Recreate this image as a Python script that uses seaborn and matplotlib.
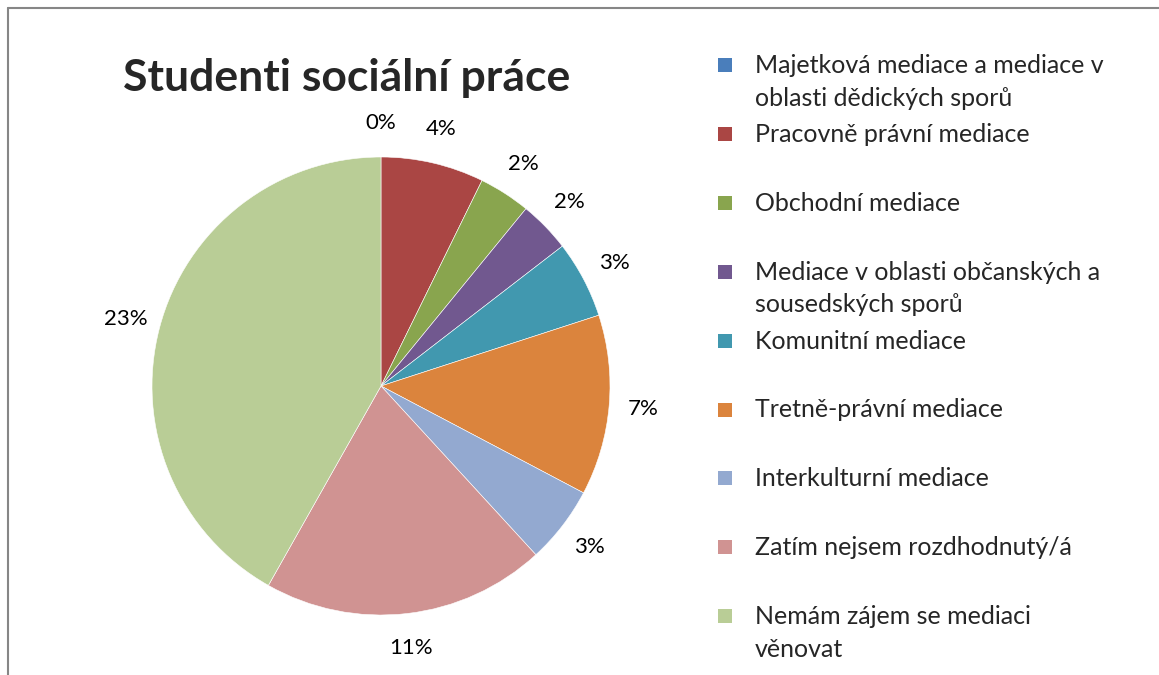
import matplotlib

matplotlib.use("Agg")

import matplotlib.pyplot as plt
import seaborn as sns
from matplotlib.lines import Line2D
from matplotlib.patches import Rectangle

CATEGORIES = [
    "Majetková mediace a mediace v\noblasti dědických sporů",
    "Pracovně právní mediace",
    "Obchodní mediace",
    "Mediace v oblasti občanských a\nsousedských sporů",
    "Komunitní mediace",
    "Tretně-právní mediace",
    "Interkulturní mediace",
    "Zatím nejsem rozdhodnutý/á",
    "Nemám zájem se mediaci\nvěnovat",
]
PERCENTS = [0, 4, 2, 2, 3, 7, 3, 11, 23]
COLORS = [
    "#4A7EBB", "#AA4644", "#89A54E", "#71588F", "#4198AF",
    "#DB843D", "#93A9D0", "#D09392", "#B9CD96",
]
TITLE = "Studenti sociální práce"

W, H = 1159, 675


def main() -> None:
    sns.set_theme(style="white")
    plt.rcParams["font.family"] = ["Lato", "DejaVu Sans"]

    fig = plt.figure(figsize=(W / 100, H / 100), dpi=100)
    fig.patch.set_facecolor("white")

    # pie area: centre (381, 386) px, radius 229 px
    cx, cy, r = 381, 386, 229
    ax = fig.add_axes([(cx - r) / W, (H - cy - r) / H, 2 * r / W, 2 * r / H])
    _, texts = ax.pie(
        PERCENTS,
        colors=COLORS,
        startangle=90,
        counterclock=False,
        labels=[f"{p}%" for p in PERCENTS],
        labeldistance=1.15,
        radius=1,
        wedgeprops={"edgecolor": "white", "linewidth": 0.4},
        textprops={"fontsize": 16, "color": "black"},
    )
    for t in texts:
        t.set_ha("center")
        t.set_va("center")
    ax.set_xlim(-1, 1)
    ax.set_ylim(-1, 1)
    ax.set_aspect("equal")
    ax.axis("off")

    fig.text(347 / W, 1 - 78 / H, TITLE, ha="center", va="center",
             fontsize=32, fontweight="bold")

    # legend, drawn by hand so markers sit beside the first line
    y0, step = 65, 68.9
    for i, (label, color) in enumerate(zip(CATEGORIES, COLORS)):
        y = y0 + i * step
        fig.patches.append(Rectangle(
            (718 / W, 1 - (y + 7) / H), 14 / W, 14 / H,
            transform=fig.transFigure, facecolor=color, edgecolor="none"))
        fig.text(755 / W, 1 - (y - 11) / H, label, ha="left", va="top",
                 fontsize=18, linespacing=1.5)

    # frame lines of the chart area
    fig.add_artist(Line2D([8 / W, 8 / W], [0, 1 - 8 / H],
                          transform=fig.transFigure, color="#868686", lw=1.5))
    fig.add_artist(Line2D([8 / W, 1], [1 - 8 / H, 1 - 8 / H],
                          transform=fig.transFigure, color="#868686", lw=1.5))

    fig.savefig("out.png", dpi=100)


if __name__ == "__main__":
    main()
